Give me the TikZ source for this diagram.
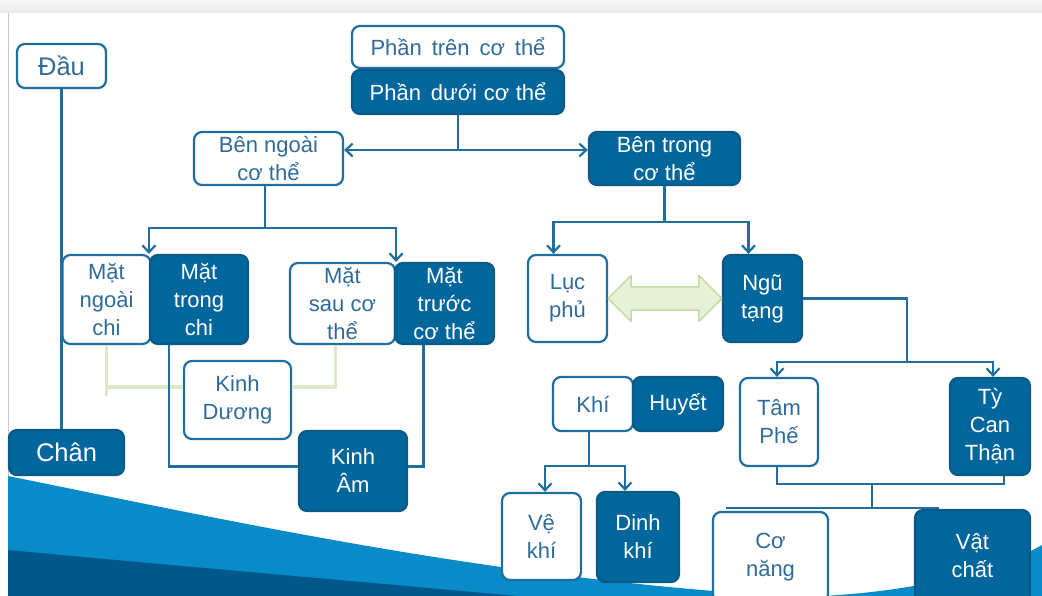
\documentclass[tikz,border=0pt]{standalone}
\usepackage{fontspec}
\setmainfont{Liberation Sans}
\usetikzlibrary{arrows.meta}
\definecolor{boxline}{HTML}{1F6E9E}
\definecolor{boxfill}{HTML}{00669B}
\definecolor{boxedge}{HTML}{0B5A86}
\definecolor{textblue}{HTML}{2F6C99}
\definecolor{linkgreen}{HTML}{DCEAC8}
\definecolor{arrowgreen}{HTML}{E6F1D8}
\definecolor{arrowedge}{HTML}{C4DAA4}
\definecolor{wavelight}{HTML}{0A8BC9}
\definecolor{wavedark}{HTML}{00578A}

\begin{document}
\begin{tikzpicture}[
    x=1pt,y=-1pt,
    box/.style={draw=boxline,fill=white,text=textblue,line width=2.2pt,rounded corners=8pt,
      align=center,inner sep=0pt,font=\fontsize{22}{28}\selectfont},
    darkbox/.style={box,draw=boxedge,fill=boxfill,text=white},
    bigtext/.style={font=\fontsize{25.5}{30}\selectfont},
    wh/.style 2 args={minimum width=#1,minimum height=#2},
    conn/.style={draw=boxline,line width=2.6pt},
    arr/.style={conn,-{Straight Barb[length=7pt,width=13pt,line width=2.2pt]}},
    link/.style={draw=linkgreen,line width=3.5pt},
    twoway/.style={fill=arrowgreen,draw=arrowedge,line width=1.5pt,line join=round}
]
% background
\clip (0,0) rectangle (1042,596);
\fill[white] (0,0) rectangle (1042,596);
\shade[top color=black!3,bottom color=black!9] (0,0) rectangle (1042,13);
\draw[black!22,line width=1pt] (8,13) -- (8,596);
\fill[wavelight] (8,476) .. controls (250,525) and (500,580) .. (800,597)
  .. controls (900,594) and (990,575) .. (1042,545) -- (1042,600) -- (8,600) -- cycle;
\fill[wavedark] (8,550) .. controls (200,568) and (400,585) .. (560,600) -- (8,600) -- cycle;

% head / feet
\node[box,bigtext,wh={89pt}{44pt}] (dau) at (61.5,66) {Đầu};
\node[darkbox,bigtext,wh={115pt}{45pt}] (chan) at (66.5,452.5) {Chân};

% upper / lower body
\node[box,wh={212pt}{42pt}] (phantren) at (458,47) {Phần\hspace{0.45em}trên\hspace{0.45em}cơ\hspace{0.45em}thể};
\node[darkbox,wh={212pt}{44pt}] (phanduoi) at (458,92) {Phần\hspace{0.45em}dưới\hspace{0.3em}cơ\hspace{0.3em}thể};
\node[box,wh={149pt}{53pt}] (benngoai) at (268.5,158.5) {Bên ngoài\\cơ thể};
\node[darkbox,wh={151pt}{53pt}] (bentrong) at (664.5,158.5) {Bên trong\\cơ thể};

% outside of the body
\node[box,wh={88pt}{89pt}] (matngoai) at (106.5,299.5) {Mặt\\ngoài\\chi};
\node[darkbox,wh={98pt}{89pt}] (mattrong) at (199,299.5) {Mặt\\trong\\chi};
\node[box,wh={105pt}{81pt}] (matsau) at (342.5,303.5) {Mặt\\sau cơ\\thể};
\node[darkbox,wh={99pt}{81pt}] (mattruoc) at (444.5,303.5) {Mặt\\trước\\cơ thể};
\node[box,wh={107pt}{78pt}] (kinhduong) at (237.5,400) {Kinh\\Dương};
\node[darkbox,wh={108pt}{80pt}] (kinham) at (353,471) {Kinh\\Âm};

% inside of the body
\node[box,wh={79pt}{87pt}] (lucphu) at (567.5,298.5) {Lục\\phủ};
\node[darkbox,wh={79pt}{87pt}] (ngutang) at (762.5,298.5) {Ngũ\\tạng};
\node[box,wh={80pt}{54pt}] (khi) at (593,404) {Khí};
\node[darkbox,wh={90pt}{54pt}] (huyet) at (678,404) {Huyết};
\node[box,wh={79pt}{87pt}] (vekhi) at (541.5,536.5) {Vệ\\khí};
\node[darkbox,wh={82pt}{90pt}] (dinhkhi) at (638,537) {Dinh\\khí};
\node[box,wh={78pt}{88pt}] (tamphe) at (779,422) {Tâm\\Phế};
\node[darkbox,wh={80pt}{97pt}] (tycan) at (990,426.5) {Tỳ\\Can\\Thận};
\node[box,wh={115pt}{90pt}] (conang) at (770.5,557) {Cơ\\năng};
\node[darkbox,wh={115pt}{92pt}] (vatchat) at (972.5,556) {Vật\\chất};

% connectors
\draw[conn] (dau.south) -- (dau.south |- chan.north);
\coordinate (top) at (458,150);
\draw[conn] (phanduoi.south) -- (top);
\draw[arr] (top) -- (benngoai.east |- top);
\draw[arr] (top) -- (bentrong.west |- top);

\coordinate (outer) at (265,228);
\draw[conn] (benngoai.south -| outer) -- (outer);
\draw[arr] (outer) -| (mattrong.north west);
\draw[arr] (outer) -| (matsau.north east);

\draw[link] (matngoai.south) -- ++(0,51);
\draw[link] ([yshift=13pt]kinhduong.west) -| (matngoai.south);
\draw[link] ([yshift=13pt]kinhduong.east) -| ([xshift=-7pt]matsau.south);
\draw[conn] ([xshift=-30pt]mattrong.south) |- ([yshift=4.5pt]kinham.west);
\draw[conn] ([xshift=-21pt]mattruoc.south) |- ([yshift=4.5pt]kinham.east);

\coordinate (inner) at (664.5,222);
\draw[conn] (bentrong.south) -- (inner);
\draw[arr] (inner) -| ([xshift=-14pt]lucphu.north);
\draw[arr] (inner) -| ([xshift=-14pt]ngutang.north);
\draw[twoway] (lucphu.east) -- ++(23,-23) -- ++(0,11.5)
  -- ([xshift=-23pt,yshift=11.5pt]ngutang.west) -- ++(0,-11.5)
  -- (ngutang.west) -- ++(-23,23) -- ++(0,-11.5)
  -- ([xshift=23pt,yshift=-11.5pt]lucphu.east) -- ++(0,11.5) -- cycle;

\coordinate (zang) at (907,362);
\draw[conn] (ngutang.east) -| (zang);
\draw[arr] (zang) -| ([xshift=-2pt]tamphe.north);
\draw[arr] (zang) -| ([xshift=3pt]tycan.north);

\coordinate (qi) at (589,466);
\draw[conn] (khi.south -| qi) -- (qi);
\draw[arr] (qi) -| ([xshift=3.5pt]vekhi.north);
\draw[arr] (qi) -| ([xshift=-13pt]dinhkhi.north);

\coordinate (func) at (872,484);
\draw[conn] ([xshift=-2pt]tamphe.south) |- (func) -| ([xshift=14pt]tycan.south);
\draw[conn] (func) -- ++(0,25);
\draw[conn] ([xshift=14pt,yshift=3pt]conang.north west) -- ([xshift=25pt,yshift=1pt]vatchat.north west);
\end{tikzpicture}
\end{document}
